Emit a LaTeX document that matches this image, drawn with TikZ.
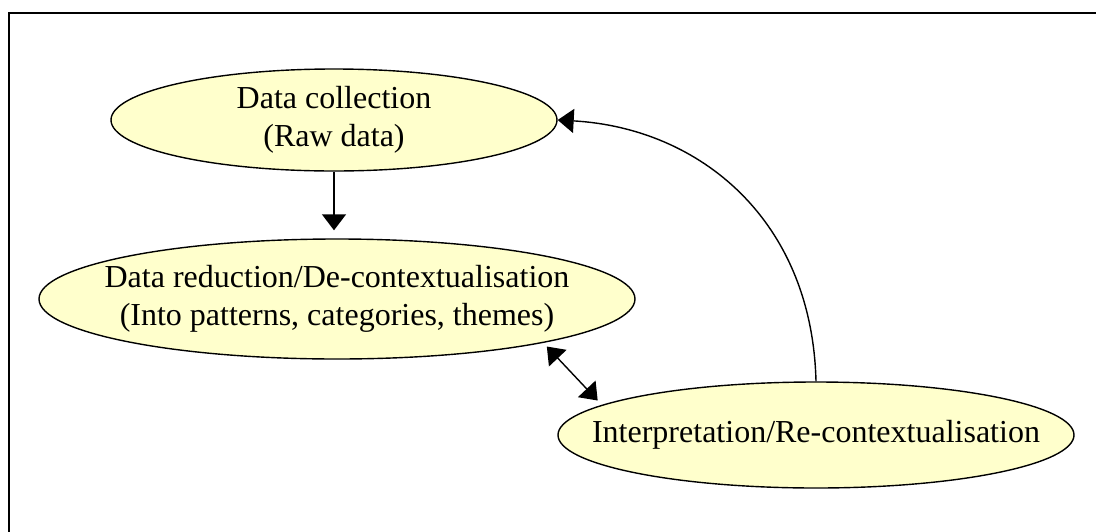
\documentclass[tikz,border=0pt]{standalone}
\usepackage{fontspec}
\setmainfont{Liberation Serif}
\usetikzlibrary{arrows.meta,shapes.geometric}
\definecolor{bubble}{HTML}{FFFFCC}
\tikzset{
  stage/.style={ellipse, draw=black, line width=1.4pt, fill=bubble, inner sep=0pt},
  label/.style={align=center, inner sep=0pt, font=\fontsize{32}{37.5}\selectfont},
  head/.style={Triangle[length=16pt,width=24pt]},
  link/.style={line width=1.4pt, -{Triangle[length=16pt,width=24pt]}},
  twoway/.style={line width=1.4pt, {Triangle[length=16pt,width=24pt]}-{Triangle[length=16pt,width=24pt]}},
  frameline/.style={line width=2.6pt}
}
\begin{document}
\begin{tikzpicture}[x=1pt,y=-1pt]
  \useasboundingbox (0,0) rectangle (1096,531);
  % outer frame, continuing past the right and bottom edges
  \begin{scope}
    \clip (0,0) rectangle (1096,531);
    \draw[frameline] (9,13) rectangle (1120,560);
  \end{scope}

  % the three stages: outline first, wording on top
  \node[stage, minimum width=446pt, minimum height=102pt] (collect) at (334,120) {};
  \node[label] (collect-text) at (collect) {Data collection\\(Raw data)};

  \node[stage, minimum width=596pt, minimum height=120pt] (reduce) at (337,299) {};
  \node[label] (reduce-text) at (reduce) {Data reduction/De-contextualisation\\(Into patterns, categories, themes)};

  \node[stage, minimum width=516pt, minimum height=106pt] (interp) at (816,435) {};
  \node[label] (interp-text) at (interp) {Interpretation/Re-contextualisation};

  % connectors
  \draw[link, shorten >=8pt] (collect.south) -- (collect.south |- reduce.north);
  \draw[twoway, shorten <=5pt, shorten >=6pt] (reduce.-12) -- (interp.172);
  \draw[link] (interp.north) .. controls (812,220) and (700,128) .. (collect.east);
\end{tikzpicture}
\end{document}
